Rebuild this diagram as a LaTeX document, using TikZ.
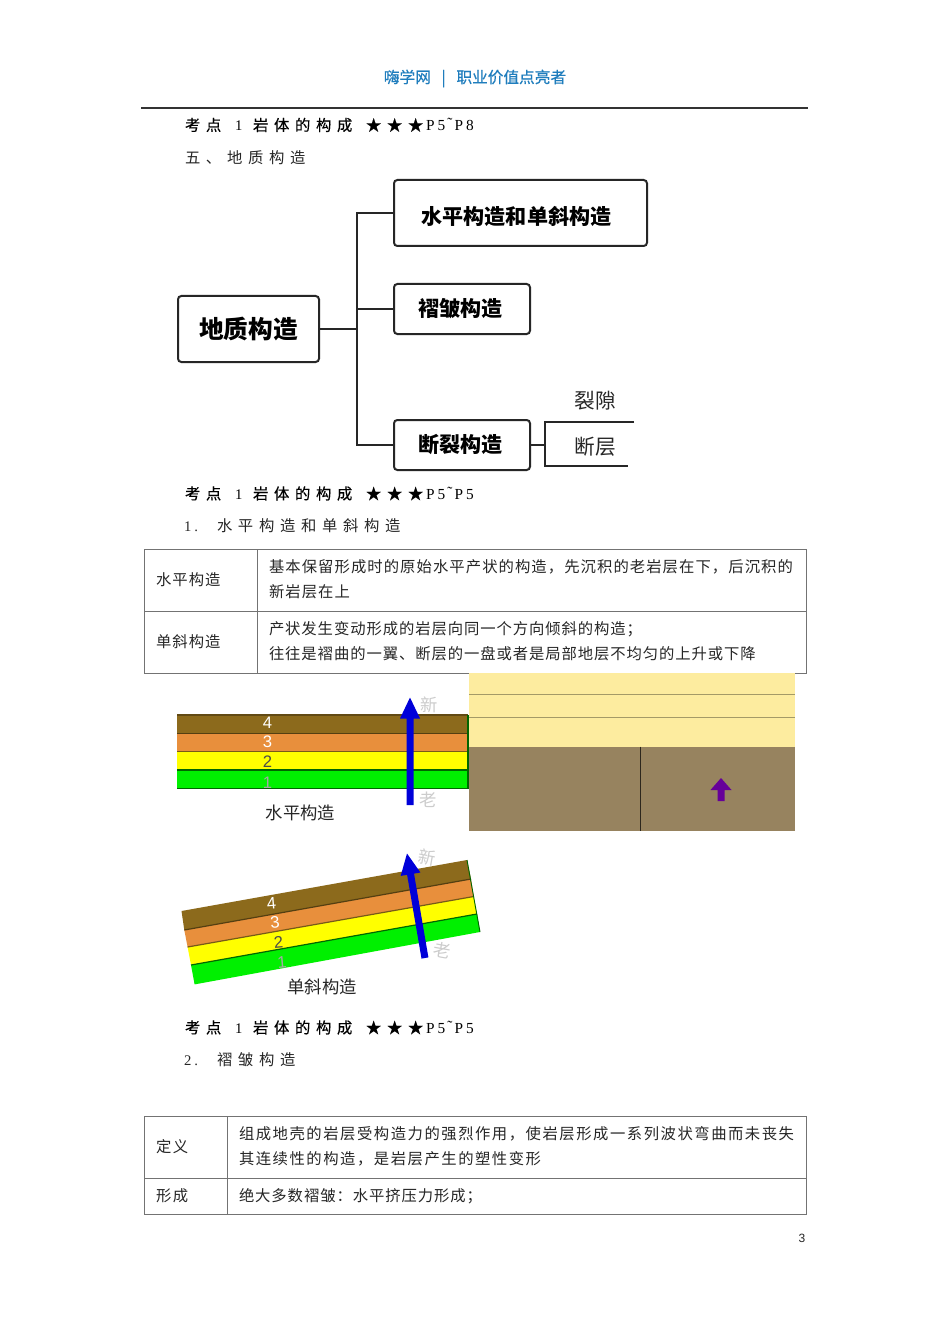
\documentclass[tikz,border=0pt]{standalone}
\usepackage{fontspec}
\setmainfont{Noto Sans CJK SC}
\newfontfamily\hdf[LetterSpace=37]{Noto Sans CJK SC}
\newfontfamily\hdbf[LetterSpace=37,FakeBold=0.4]{Noto Sans CJK SC}
\newfontfamily\tblf[LetterSpace=7]{Noto Sans CJK SC}
\newfontfamily\tblg[LetterSpace=6]{Noto Sans CJK SC}
\newfontfamily\tblh[LetterSpace=10]{Noto Sans CJK SC}
\newfontfamily\toph[FakeBold=0.5]{Noto Sans CJK SC}
\newfontfamily\latf[LetterSpace=20]{Liberation Serif}
\newfontfamily\sansf{Liberation Sans}
\newcommand{\mbx}[2]{\makebox[\dimexpr #1pt*3/4\relax][l]{#2}}
\newcommand{\tld}{\hspace{1.6pt}\raisebox{1.5pt}{˜}\hspace{1.6pt}}
\newcommand{\kaodian}[1]{\fontsize{11.5}{12}\selectfont\mbx{50}{\hdbf 考点}\mbx{18}{\latf\fontsize{11}{12}\selectfont 1}\mbx{113}{\hdbf 岩体的构成}\mbx{60}{\hdbf ★★★}{\latf\fontsize{11.5}{12}\selectfont #1}}
\definecolor{hdblue}{HTML}{1F7DBD}
\definecolor{lay4}{HTML}{8C6A1C}
\definecolor{lay3}{HTML}{E88F3C}
\definecolor{lay2}{HTML}{FFFF00}
\definecolor{lay1}{HTML}{00F000}
\definecolor{sand}{HTML}{FDEC9F}
\definecolor{mud}{HTML}{97835F}
\tikzset{
  txt/.style={inner sep=0pt,outer sep=0pt,text=black!85},
  heading/.style={txt,anchor=west,text=black},
  sub/.style={txt,anchor=west,font=\hdf\fontsize{11.5}{12}\selectfont},
  cell/.style={txt,anchor=west,align=left,font=\tblf\fontsize{11.5}{18.75}\selectfont},
  cellb/.style={cell,font=\tblg\fontsize{11.5}{18.75}\selectfont},
  cellc/.style={cell,font=\tblh\fontsize{11.5}{18.75}\selectfont},
  bx/.style 2 args={draw=black!85,line width=1.5pt,rounded corners=2.5pt,inner sep=0pt,minimum width=#1*.75pt,minimum height=#2*.75pt,font=\bfseries\fontsize{15.8}{18}\selectfont},
  lnk/.style={draw=black!85,line width=1.5pt},
  grid/.style={draw=black!55,line width=.7pt},
  faint/.style={txt,text=gray!40,font=\fontsize{13}{14}\selectfont},
  num/.style={txt,font=\sansf\fontsize{12.5}{14}\selectfont},
  figcap/.style={txt,font=\fontsize{13}{15}\selectfont},
  lab/.style={txt,font=\fontsize{15.5}{18}\selectfont}
}
\begin{document}
\begin{tikzpicture}[x=.75pt,y=-.75pt]
\useasboundingbox (0,0) rectangle (950,1344);
\fill[white] (0,0) rectangle (950,1344);
% header
\node[txt,text=hdblue,font=\toph\fontsize{11.75}{13}\selectfont] (hdr) at (475,78.5) {嗨学网\hspace{8pt}|\hspace{8pt}职业价值点亮者};
\coordinate (rl) at (141,108); \coordinate (rr) at (808,108);
\draw[black!80,line width=.9pt] (rl) -- (rr);
\node[heading] (h1) at (185,125) {\kaodian{P5\tld P8}};
\node[sub] (h2) at (185,158) {五、地质构造};
% tree
\node[bx={253}{66},text height=18pt,text depth=0pt] (b1) at (520.5,213) {\hspace*{-6pt}水平构造和单斜构造};
\node[bx={136}{50}] (b2) at (462,309) {\hspace*{-2pt}褶皱构造};
\node[bx={136}{50}] (b3) at (462,445) {\hspace*{-2pt}断裂构造};
\node[bx={141}{66},font=\bfseries\fontsize{18.5}{20}\selectfont] (root) at (248.5,329) {地质构造};
\coordinate (tr) at (357,329);
\draw[lnk] (root.east) -- (tr);
\draw[lnk] (tr) |- (b1.west);
\draw[lnk] (tr) |- (b2.west);
\draw[lnk] (tr) |- (b3.west);
\coordinate (br) at (545,445);
\coordinate (brt) at (545,422); \coordinate (brb) at (545,466);
\coordinate (lt) at (634,422); \coordinate (lb) at (628,466);
\draw[lnk] (b3.east) -- (br);
\draw[lnk] (lt) -- (brt) -- (brb) -- (lb);
\node[lab] (n1) at (595,401) {裂隙};
\node[lab] (n2) at (595,447) {断层};
% section 1
\node[heading] (h3) at (185,493.5) {\kaodian{P5\tld P5}};
\node[sub] (h4) at (184,526) {\mbx{33}{\latf\fontsize{11}{12}\selectfont 1.}水平构造和单斜构造};
% table 1
\draw[grid] (144,549) rectangle (806,673);
\draw[grid] (144,611) -- (806,611);
\draw[grid] (257,549) -- (257,673);
\node[cell] (t1a) at (156,580) {水平构造};
\node[cell] (t1b) at (269,579.5) {基本保留形成时的原始水平产状的构造，先沉积的老岩层在下，后沉积的\\新岩层在上};
\node[cell] (t1c) at (156,642) {单斜构造};
\node[cellb] (t1d) at (269,641.5) {产状发生变动形成的岩层向同一个方向倾斜的构造；\\往往是褶曲的一翼、断层的一盘或者是局部地层不均匀的上升或下降};
% figure 1
\fill[lay4] (177,715) rectangle (468,733.5);
\fill[lay3] (177,733.5) rectangle (468,751.5);
\fill[lay2] (177,751.5) rectangle (468,770);
\fill[lay1] (177,770) rectangle (468,788.5);
\draw[lay4!70!black,line width=.8pt] (177,715) -- (468,715);
\draw[lay4!60!black,line width=1pt] (177,733.5) -- (468,733.5);
\draw[lay4!85!black,line width=1pt] (177,751.5) -- (468,751.5);
\draw[green!40!black,line width=.9pt] (177,770) -- (468,770);
\draw[green!40!black,line width=.9pt] (177,788.5) -- (468,788.5) -- (468,715);
\node[num,text=white] (f4) at (267.5,722.5) {4};
\node[num,text=white] (f3) at (267.5,742) {3};
\node[num,text=black!70] (f2) at (267.5,762) {2};
\node[num,text=gray!70] (f1) at (267.5,783) {1};
\fill[blue!85!black] (406.5,805) -- (413.5,805) -- (413.5,718.5) -- (420,718.5) -- (410,697.5) -- (400,718.5) -- (406.5,718.5) -- cycle;
\node[faint] (fn) at (429,705) {新};
\node[faint] (fl) at (428,800) {老};
\node[figcap] (c1) at (300.5,813) {水平构造};
% right picture
\fill[sand] (469,673) rectangle (795,746.5);
\fill[mud] (469,746.5) rectangle (795,831);
\draw[black!35!sand,line width=.7pt] (469,694.5) -- (795,694.5);
\draw[black!35!sand,line width=.7pt] (469,717) -- (795,717);
\draw[black!70!mud,line width=.6pt] (640,746.5) -- (640,831);
\fill[violet!80!blue] (717.5,801) -- (724.5,801) -- (724.5,790) -- (731.5,790) -- (721,778) -- (710.5,790) -- (717.5,790) -- cycle;
% figure 2
\fill[lay4] (181.5,911) -- (467,860) -- (471,879) -- (184.3,930) -- cycle;
\fill[lay3] (184.3,930) -- (471,879) -- (473.7,896.5) -- (187.6,947) -- cycle;
\fill[lay2] (187.6,947) -- (473.7,896.5) -- (477,914) -- (191,965) -- cycle;
\fill[lay1] (191,965) -- (477,914) -- (480,932) -- (194.6,984.4) -- cycle;
\draw[lay4!60!black,line width=.9pt] (184.3,930) -- (471,879);
\draw[lay4!85!black,line width=.9pt] (187.6,947) -- (473.7,896.5);
\draw[green!40!black,line width=.9pt] (191,965) -- (477,914);
\draw[green!40!black,line width=.7pt] (467,860) -- (480,932);
\node[num,text=white,rotate=5] (g4) at (271.5,903) {4};
\node[num,text=white,rotate=5] (g3) at (275,922) {3};
\node[num,text=black!70,rotate=5] (g2) at (278.5,942.5) {2};
\node[num,text=gray!70,rotate=5] (g1) at (282,962.5) {1};
\fill[blue!85!black] (428.4,957.4) -- (421.5,958.6) -- (407.1,874.8) -- (400.7,875.9) -- (407,853.5) -- (420.4,872.5) -- (414,873.6) -- cycle;
\node[faint,rotate=-10] (gn) at (427,857) {新};
\node[faint,rotate=-10] (gl) at (442.5,950) {老};
\node[figcap] (c2) at (322,987) {单斜构造};
% section 2
\node[heading] (h5) at (185,1027.5) {\kaodian{P5\tld P5}};
\node[sub] (h6) at (184,1060) {\mbx{33}{\latf\fontsize{11}{12}\selectfont 2.}褶皱构造};
% table 2
\draw[grid] (144,1116) rectangle (806,1214);
\draw[grid] (144,1178) -- (806,1178);
\draw[grid] (227,1116) -- (227,1214);
\node[cellc] (t2a) at (156,1147) {定义};
\node[cellc] (t2b) at (239,1146.5) {组成地壳的岩层受构造力的强烈作用，使岩层形成一系列波状弯曲而未丧失\\其连续性的构造，是岩层产生的塑性变形};
\node[cellc] (t2c) at (156,1196) {形成};
\node[cellb] (t2d) at (239,1196) {绝大多数褶皱：水平挤压力形成；};
\node[txt,font=\sansf\fontsize{9}{11}\selectfont] (pg) at (802,1238) {3};
\end{tikzpicture}
\end{document}
